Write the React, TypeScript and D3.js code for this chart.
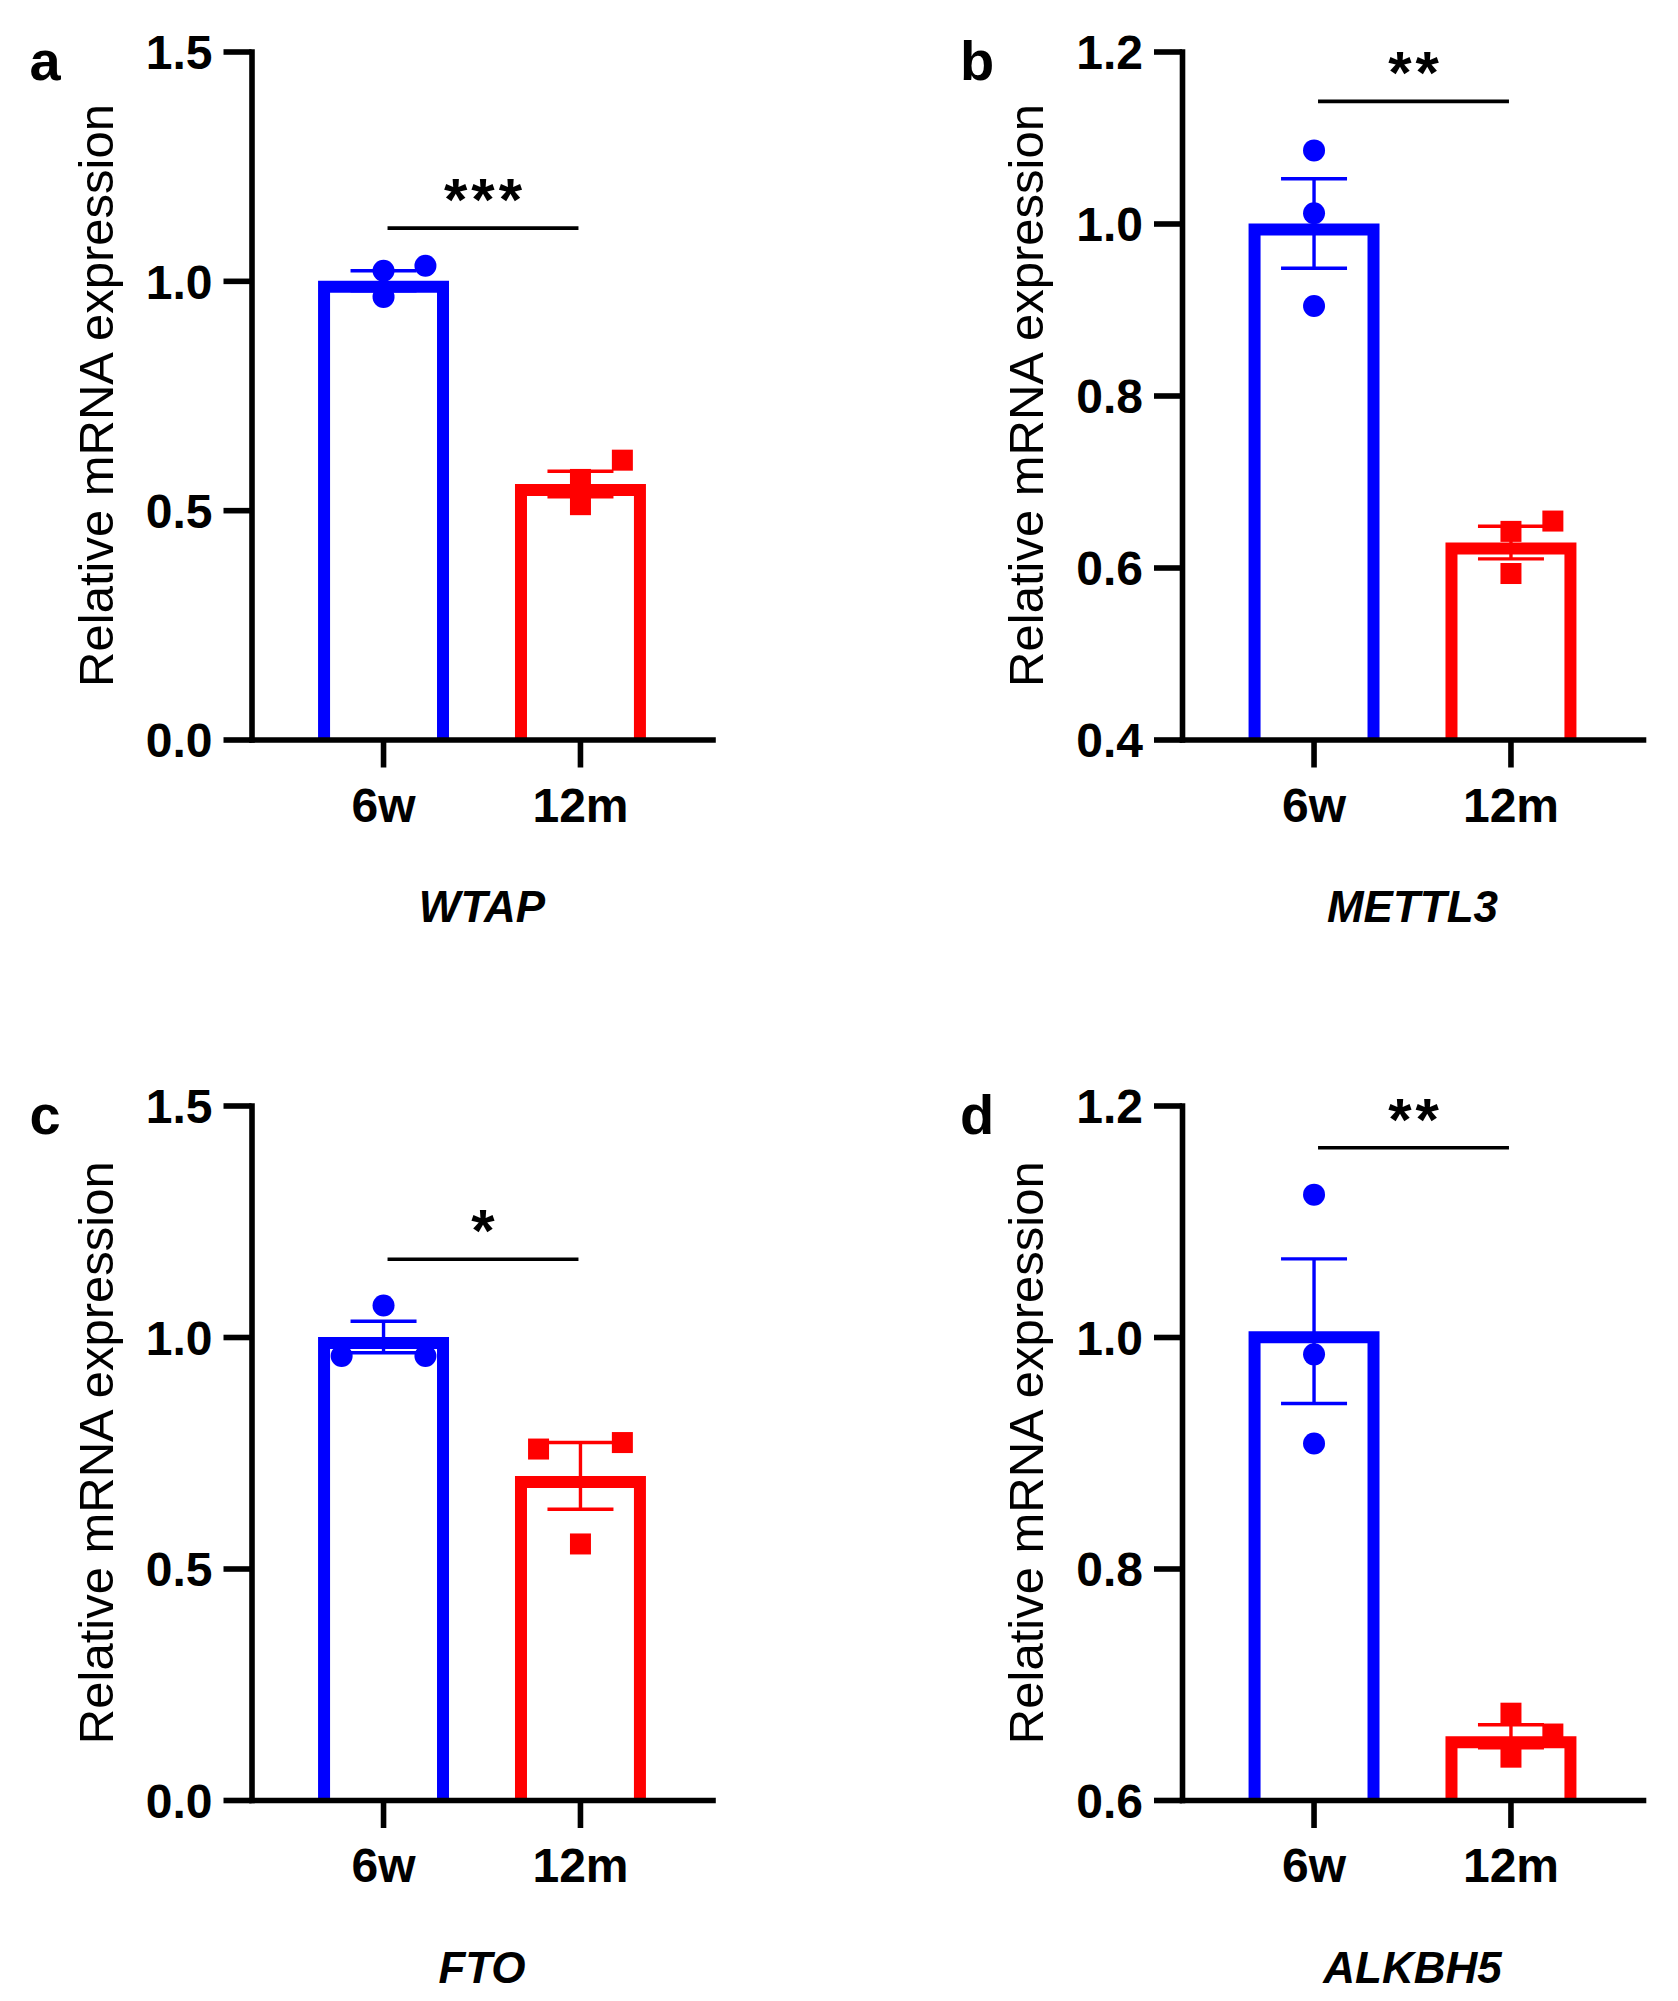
import React, { useEffect, useRef } from "react";
import * as d3 from "d3";

// groups on the x axis
const groups = ["6w", "12m"];

// one panel per gene
const genes = ["WTAP", "METTL3", "FTO", "ALKBH5"];
const letters = ["a", "b", "c", "d"];

// y axis settings per panel
const yDomains: [number, number][] = [
    [0, 1.5],
    [0.4, 1.2],
    [0, 1.5],
    [0.6, 1.2],
];
const yTicks = [
    [0, 0.5, 1.0, 1.5],
    [0.4, 0.6, 0.8, 1.0, 1.2],
    [0, 0.5, 1.0, 1.5],
    [0.6, 0.8, 1.0, 1.2],
];

// bar heights (mean) and SEM
const means6w = [1.0, 1.0, 1.0, 1.005];
const sem6w = [0.022, 0.052, 0.034, 0.0625];
const means12m = [0.557, 0.629, 0.7, 0.655];
const sem12m = [0.028, 0.019, 0.072, 0.01];

// individual replicates
const points6w = [
    [1.022, 0.965, 1.033],
    [1.085, 1.012, 0.904],
    [1.068, 0.959, 0.959],
    [1.123, 0.985, 0.908],
];
const points12m = [
    [0.609, 0.567, 0.512],
    [0.654, 0.642, 0.593],
    [0.758, 0.772, 0.553],
    [0.675, 0.657, 0.637],
];
// scatter column for each replicate (-1 left, 0 centre, 1 right)
const slots6w = [
    [0, 0, 1],
    [0, 0, 0],
    [0, -1, 1],
    [0, 0, 0],
];
const slots12m = [
    [1, 0, 0],
    [1, 0, 0],
    [-1, 1, 0],
    [0, 1, 0],
];

// significance
const stars = ["***", "**", "*", "**"];
const bracketY = [1.115, 1.142, 1.168, 1.1635];

const App: React.FC = () => {
    const svgRef = useRef<SVGSVGElement | null>(null);

    useEffect(() => {
        const svg = d3.select(svgRef.current);
        svg.selectAll("*").remove();

        const font = "'Liberation Sans', Arial, sans-serif";
        const colors = ["#0000ff", "#ff0000"];
        const width = 461;
        const colX = [251.5, 1182];
        const rows = [
            [51.5, 739.5],
            [1105.5, 1800],
        ];
        const barStroke = 12;

        genes.forEach((gene, i) => {
            const left = colX[i % 2];
            const [top, bottom] = rows[Math.floor(i / 2)];
            const height = bottom - top;

            const g = svg.append("g").attr("transform", `translate(${left},${top})`);

            const x = d3
                .scaleBand()
                .domain(groups)
                .range([0, width])
                .paddingInner(0.335)
                .paddingOuter(0.338);
            const y = d3.scaleLinear().domain(yDomains[i]).range([height, 0]);
            const bw = x.bandwidth();
            const cx = (grp: string) => x(grp)! + bw / 2;

            const means = [means6w[i], means12m[i]];
            const sems = [sem6w[i], sem12m[i]];
            const pts = [points6w[i], points12m[i]];
            const slots = [slots6w[i], slots12m[i]];

            // Bars: open outline (no bottom edge), drawn inside the bar area
            g.selectAll("path.bar")
                .data(groups)
                .join("path")
                .attr("class", "bar")
                .attr("d", (d, j) => {
                    const x0 = x(d)! + barStroke / 2;
                    const x1 = x(d)! + bw - barStroke / 2;
                    const yt = y(means[j]) + barStroke / 2;
                    const p = d3.path();
                    p.moveTo(x0, height);
                    p.lineTo(x0, yt);
                    p.lineTo(x1, yt);
                    p.lineTo(x1, height);
                    return p.toString();
                })
                .attr("fill", "none")
                .attr("stroke", (_, j) => colors[j])
                .attr("stroke-width", barStroke)
                .attr("stroke-linejoin", "miter");

            // Error bars (mean ± SEM)
            groups.forEach((grp, j) => {
                const eb = g.append("g").attr("stroke", colors[j]).attr("stroke-width", 3.4);
                const lo = y(means[j] - sems[j]);
                const hi = y(means[j] + sems[j]);
                eb.append("line").attr("x1", cx(grp)).attr("x2", cx(grp)).attr("y1", lo).attr("y2", hi);
                [lo, hi].forEach((yy) =>
                    eb
                        .append("line")
                        .attr("x1", cx(grp) - 33)
                        .attr("x2", cx(grp) + 33)
                        .attr("y1", yy)
                        .attr("y2", yy)
                );
            });

            // Replicate points
            const step = bw * 0.32;
            const ptData6 = pts[0].map((v, k) => ({ v, s: slots[0][k] }));
            const ptData12 = pts[1].map((v, k) => ({ v, s: slots[1][k] }));
            g.selectAll("circle.pt")
                .data(ptData6)
                .join("circle")
                .attr("class", "pt")
                .attr("cx", (d) => cx(groups[0]) + d.s * step)
                .attr("cy", (d) => y(d.v))
                .attr("r", 11)
                .attr("fill", colors[0]);
            g.selectAll("rect.pt")
                .data(ptData12)
                .join("rect")
                .attr("class", "pt")
                .attr("x", (d) => cx(groups[1]) + d.s * step - 10.5)
                .attr("y", (d) => y(d.v) - 10.5)
                .attr("width", 21)
                .attr("height", 21)
                .attr("fill", colors[1]);

            // Axes
            const yAxis = g
                .append("g")
                .call(
                    d3
                        .axisLeft(y)
                        .tickValues(yTicks[i])
                        .tickFormat(d3.format(".1f"))
                        .tickSize(28)
                        .tickSizeOuter(0)
                        .tickPadding(11)
                );
            const xAxis = g
                .append("g")
                .attr("transform", `translate(0,${height})`)
                .call(d3.axisBottom(x).tickSize(28).tickSizeOuter(0).tickPadding(20));

            [yAxis, xAxis].forEach((ax) => {
                ax.select(".domain")
                    .attr("stroke", "#000")
                    .attr("stroke-width", 5.6)
                    .attr("stroke-linecap", "square");
                ax.selectAll(".tick line").attr("stroke", "#000").attr("stroke-width", 5.6);
                ax.selectAll(".tick text")
                    .attr("fill", "#000")
                    .style("font-family", font)
                    .style("font-weight", "bold")
                    .style("font-size", "48px");
            });
            yAxis.selectAll(".tick text").attr("dy", "0.36em");

            // Y axis title
            g.append("text")
                .attr("transform", `translate(-139,${height / 2}) rotate(-90)`)
                .attr("text-anchor", "middle")
                .style("font-family", font)
                .style("font-size", "49px")
                .text("Relative mRNA expression");

            // Gene name
            g.append("text")
                .attr("x", width / 2)
                .attr("y", height + 182.5)
                .attr("text-anchor", "middle")
                .style("font-family", font)
                .style("font-weight", "bold")
                .style("font-style", "italic")
                .style("font-size", "44px")
                .text(gene);

            // Panel letter
            g.append("text")
                .attr("x", -222)
                .attr("y", 28.5)
                .style("font-family", font)
                .style("font-weight", "bold")
                .style("font-size", "56px")
                .text(letters[i]);

            // Significance bracket
            const by = y(bracketY[i]);
            g.append("line")
                .attr("x1", cx(groups[0]) + 4)
                .attr("x2", cx(groups[1]) - 2)
                .attr("y1", by)
                .attr("y2", by)
                .attr("stroke", "#000")
                .attr("stroke-width", 3.6);
            g.append("text")
                .attr("x", (cx(groups[0]) + cx(groups[1])) / 2 + 3)
                .attr("y", by - 8)
                .attr("text-anchor", "middle")
                .style("font-family", font)
                .style("font-weight", "bold")
                .style("font-size", "60px")
                .style("letter-spacing", "4px")
                .text(stars[i]);
        });
    }, []);

    return (
        <svg
            ref={svgRef}
            width={1678}
            height={2001}
            style={{ position: "absolute", left: 0, top: 0, background: "#fff" }}
        />
    );
};

export default App;
